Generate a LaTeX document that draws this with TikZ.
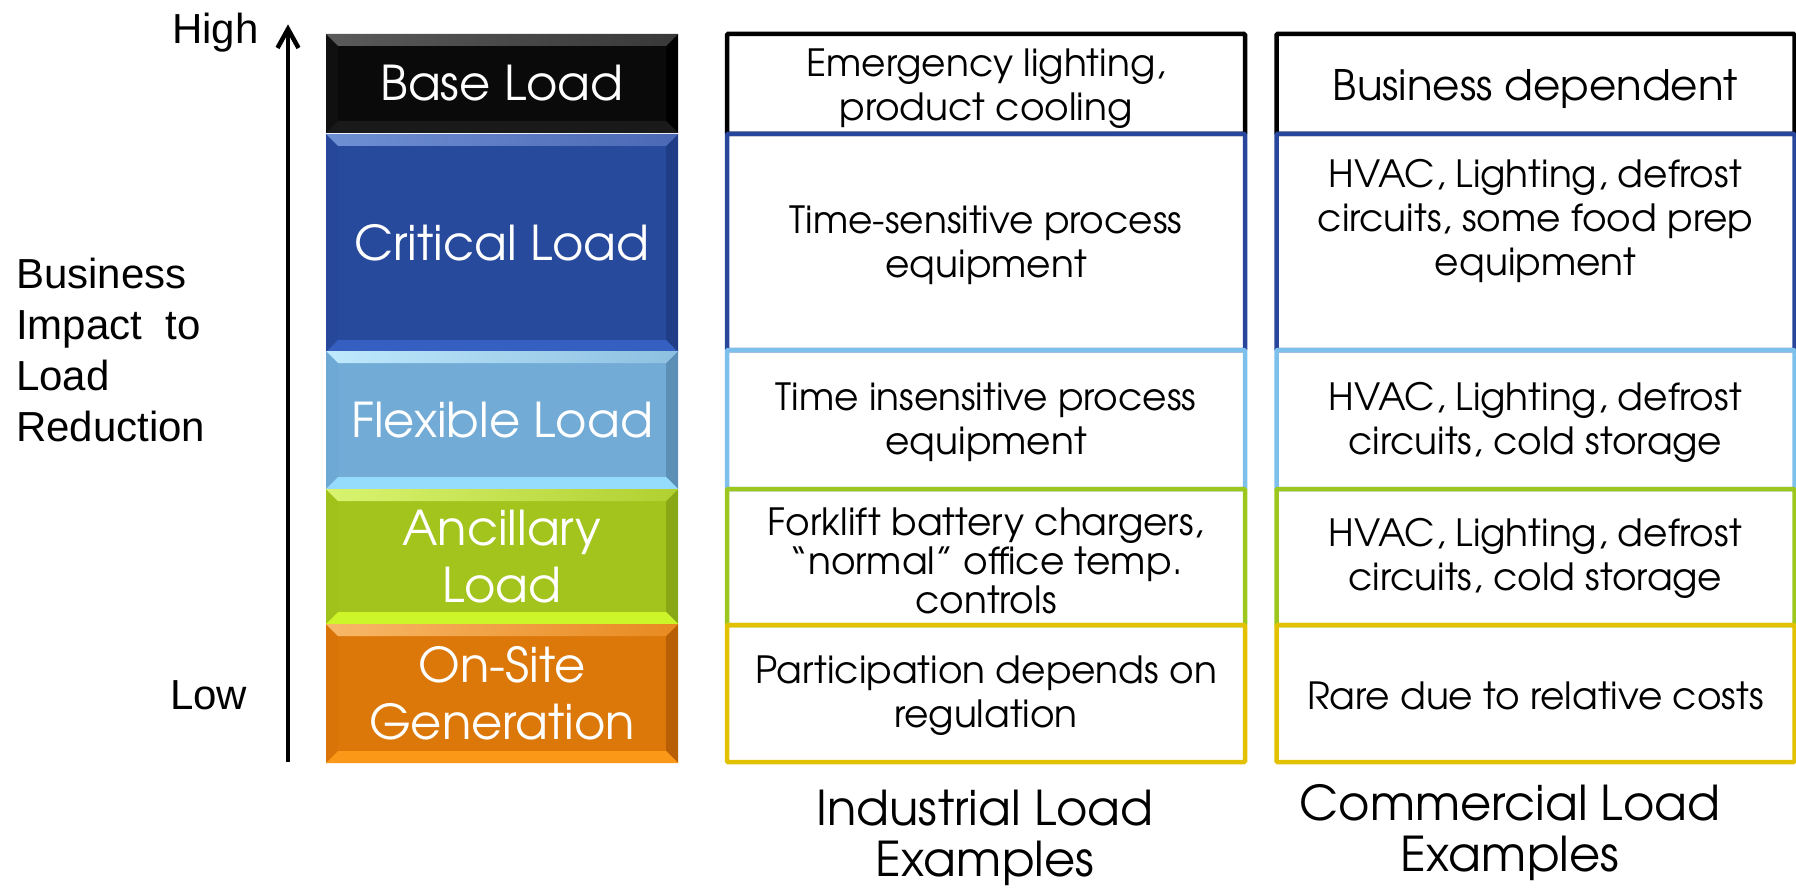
\documentclass[tikz,border=0pt]{standalone}
\usepackage{fontspec}
\setmainfont{Liberation Sans}
\newfontfamily\gothic{texgyreadventor-regular.otf}
\usetikzlibrary{arrows.meta}
\definecolor{bmain}{HTML}{0A0A0A}\definecolor{btopl}{HTML}{5A5A5A}\definecolor{btopr}{HTML}{383838}\definecolor{bbot}{HTML}{1A1A1A}\definecolor{bleft}{HTML}{101010}\definecolor{bright}{HTML}{000000}
\definecolor{cmain}{HTML}{284A9C}\definecolor{ctopl}{HTML}{7090D4}\definecolor{ctopr}{HTML}{4A68B4}\definecolor{cbot}{HTML}{3560C2}\definecolor{cleft}{HTML}{27479A}\definecolor{cright}{HTML}{1F3C86}
\definecolor{fmain}{HTML}{72ABD6}\definecolor{ftopl}{HTML}{BFE9FC}\definecolor{ftopr}{HTML}{8DC0E0}\definecolor{fbot}{HTML}{95DBFB}\definecolor{fleft}{HTML}{6EA8D4}\definecolor{fright}{HTML}{5B8FB6}
\definecolor{amain}{HTML}{A2C41C}\definecolor{atopl}{HTML}{D8F470}\definecolor{atopr}{HTML}{B0D030}\definecolor{abot}{HTML}{CCF52A}\definecolor{aleft}{HTML}{A0C21A}\definecolor{aright}{HTML}{88A915}
\definecolor{omain}{HTML}{DC780A}\definecolor{otopl}{HTML}{F8B868}\definecolor{otopr}{HTML}{E88A20}\definecolor{obot}{HTML}{FC9818}\definecolor{oleft}{HTML}{D87408}\definecolor{oright}{HTML}{B85F05}
\definecolor{edgeblue}{HTML}{28479C}
\definecolor{edgelight}{HTML}{7EC0EC}
\definecolor{edgegreen}{HTML}{9DC71F}
\definecolor{edgeyellow}{HTML}{E2C200}
\tikzset{
  bevelbox/.style n args={6}{fill=#1, path picture={
    \path (path picture bounding box.north west) coordinate (pnw)
          (path picture bounding box.north east) coordinate (pne)
          (path picture bounding box.south east) coordinate (pse)
          (path picture bounding box.south west) coordinate (psw);
    \fill[#5] (pnw) -- ([shift={(12pt,-12pt)}]pnw) -- ([shift={(12pt,12pt)}]psw) -- (psw) -- cycle;
    \fill[#6] (pne) -- ([shift={(-12pt,-12pt)}]pne) -- ([shift={(-12pt,12pt)}]pse) -- (pse) -- cycle;
    \shade[left color=#2, right color=#3] (pnw) -- (pne) -- ([shift={(-12pt,-12pt)}]pne) -- ([shift={(12pt,-12pt)}]pnw) -- cycle;
    \fill[#4] (psw) -- (pse) -- ([shift={(-12pt,12pt)}]pse) -- ([shift={(12pt,12pt)}]psw) -- cycle;
  }},
  lbox/.style={minimum width=352pt, inner sep=0pt, text=white, align=center,
    font=\gothic\fontsize{48}{57}\selectfont},
  cell/.style={draw=#1, line width=4.5pt, minimum width=518pt, inner sep=0pt, rounded corners=1pt},
  celltext/.style={align=center, inner sep=0pt, font=\gothic\fontsize{37.5}{44}\selectfont},
  axistext/.style={inner sep=0pt, font=\fontsize{42}{51}\selectfont},
  titletext/.style={align=center, inner sep=0pt, font=\gothic\fontsize{48}{51}\selectfont},
  axisline/.style={line width=4.5pt, line cap=butt},
  barb/.style={line width=4.5pt, line join=miter, line cap=butt},
}
\begin{document}
\begin{tikzpicture}[x=1pt,y=-1pt]
\useasboundingbox (0,0) rectangle (1796,888);

% left stacked boxes
\node[lbox, bevelbox={bmain}{btopl}{btopr}{bbot}{bleft}{bright}, minimum height=99pt] (base) at (502,83.5) {Base Load};
\node[lbox, bevelbox={cmain}{ctopl}{ctopr}{cbot}{cleft}{cright}, minimum height=218pt] (crit) at (502,243) {Critical Load};
\node[lbox, bevelbox={fmain}{ftopl}{ftopr}{fbot}{fleft}{fright}, minimum height=138pt] (flex) at (502,420) {Flexible Load};
\node[lbox, bevelbox={amain}{atopl}{atopr}{abot}{aleft}{aright}, minimum height=135pt] (anc) at (502,556.5) {Ancillary\\Load};
\node[lbox, bevelbox={omain}{otopl}{otopr}{obot}{oleft}{oright}, minimum height=139pt] (gen) at (502,693.5) {On-Site\\Generation};

% axis
\coordinate (abot) at (288,762);
\coordinate (atop) at (288,29);
\draw[axisline] (abot) -- ([yshift=-2pt]atop);
\draw[barb] ([shift={(-10.5pt,-19pt)}]atop) -- (atop) -- ([shift={(10.5pt,-19pt)}]atop);
\node[axistext, anchor=base west] (high) at (172,44) {High};
\node[axistext, anchor=base west] (low) at (170,709) {Low};
\node[axistext, anchor=north west, align=left] (impact) at (16,258) {Business\\Impact~ to\\Load\\Reduction};

% industrial column
\node[cell=black, minimum height=100pt] (i1) at (986,84) {};
\node[cell=edgeblue, minimum height=216pt] (i2) at (986,242) {};
\node[cell=edgelight, minimum height=139pt] (i3) at (986,419.5) {};
\node[cell=edgegreen, minimum height=136pt] (i4) at (986,557) {};
\node[cell=edgeyellow, minimum height=137pt] (i5) at (986,693.5) {};

% commercial column
\node[cell=black, minimum height=100pt] (c1) at (1535.5,84) {};
\node[cell=edgeblue, minimum height=216pt] (c2) at (1535.5,242) {};
\node[cell=edgelight, minimum height=139pt] (c3) at (1535.5,419.5) {};
\node[cell=edgegreen, minimum height=136pt] (c4) at (1535.5,557) {};
\node[cell=edgeyellow, minimum height=137pt] (c5) at (1535.5,693.5) {};

% texts industrial
\node[celltext] (ti1) at (986,89) {Emergency lighting,\\product cooling};
\node[celltext] (ti2) at (986,245) {Time-sensitive process\\equipment};
\node[celltext] (ti3) at (986,422) {Time insensitive process\\equipment};
\node[celltext, font=\gothic\fontsize{37.5}{39}\selectfont] (ti4) at (986,561) {Forklift battery chargers,\\“normal” office temp.\\controls};
\node[celltext] (ti5) at (986,696) {Participation depends on\\regulation};

% texts commercial
\node[celltext, font=\gothic\fontsize{42}{48}\selectfont] (tc1) at (1535.5,89) {Business dependent};
\node[celltext] (tc2) at (1535.5,221) {HVAC, Lighting, defrost\\circuits, some food prep\\equipment};
\node[celltext] (tc3) at (1535.5,422) {HVAC, Lighting, defrost\\circuits, cold storage};
\node[celltext] (tc4) at (1535.5,558) {HVAC, Lighting, defrost\\circuits, cold storage};
\node[celltext] (tc5) at (1535.5,696) {Rare due to relative costs};

% column titles
\node[titletext] (ind) at (985,838) {Industrial Load\\Examples};
\node[titletext] (com) at (1510,833) {Commercial Load\\Examples};
\end{tikzpicture}
\end{document}
